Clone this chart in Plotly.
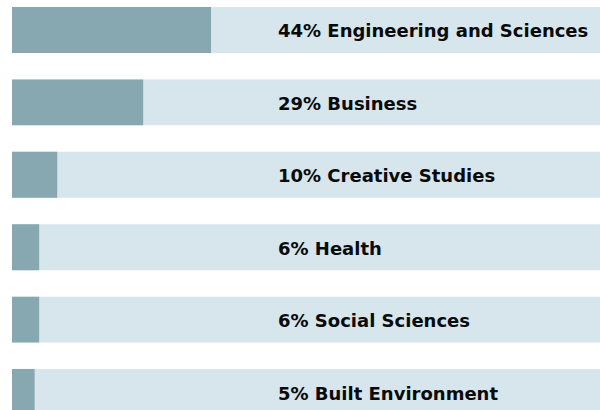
import plotly.graph_objects as go

categories = ["Engineering and Sciences", "Business", "Creative Studies", "Health",
              "Social Sciences", "Built Environment"]
shares = [44, 29, 10, 6, 6, 5]
track_max = 130
label_x = 58.3

ypos = list(range(len(categories)))
labels = [f"<b>{v}% {c}</b>" for v, c in zip(shares, categories)]

fig = go.Figure()
fig.add_trace(go.Bar(y=ypos, x=[track_max] * len(categories), orientation="h",
                     marker=dict(color="#d6e6ec", line=dict(width=0)), width=0.634,
                     hoverinfo="skip", showlegend=False))
fig.add_trace(go.Bar(y=ypos, x=shares, orientation="h",
                     marker=dict(color="#87a8b0", line=dict(width=0)), width=0.634,
                     showlegend=False))
for y, t in zip(ypos, labels):
    fig.add_annotation(x=label_x, y=y, text=t, xanchor="left", yanchor="middle",
                       showarrow=False, yshift=-1,
                       font=dict(family="DejaVu Sans", size=18, color="#0a0a0a"))

fig.update_layout(
    width=600, height=410, margin=dict(l=0, r=0, t=0, b=0),
    barmode="overlay", plot_bgcolor="white", paper_bgcolor="white",
    xaxis=dict(range=[-2.655, 130], visible=False, fixedrange=True),
    yaxis=dict(range=[5.248, -0.414], visible=False, fixedrange=True),
)
fig.write_html("out.html", config={"displayModeBar": False},
               post_script="document.body.style.margin='0';document.body.style.overflow='hidden';")
